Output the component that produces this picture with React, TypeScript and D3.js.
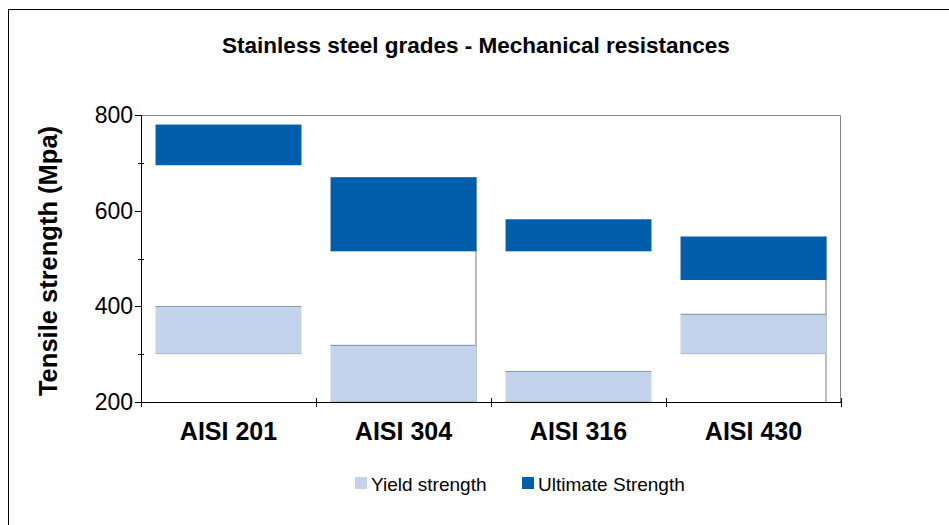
import React, { useEffect, useRef } from 'react';
import * as d3 from 'd3';

const grades = ['AISI 201', 'AISI 304', 'AISI 316', 'AISI 430'];
const yieldLow = [300, 200, 200, 300];
const yieldHigh = [400, 320, 265, 385];
const ultimateLow = [695, 515, 515, 455];
const ultimateHigh = [780, 670, 582, 546];
const yTicks = [200, 400, 600, 800];
const yMinorTicks = [300, 500, 700];
const seriesNames = ['Yield strength', 'Ultimate Strength'];

const YIELD = '#c3d3eb';
const ULT = '#005eaa';

export default function App() {
  const ref = useRef<SVGSVGElement>(null);

  useEffect(() => {
    const width = 949;
    const height = 525;
    const margin = { top: 115, left: 141, bottom: 123, right: 108 };
    const iwidth = width - margin.left - margin.right;
    const iheight = height - margin.top - margin.bottom;

    const svg = d3.select(ref.current);
    svg.selectAll('*').remove();
    svg.attr('width', width).attr('height', height);

    svg.append('rect').attr('width', width).attr('height', height).attr('fill', '#fff');

    // outer frame, runs off the page on the right and bottom
    svg.append('rect')
      .attr('x', 8.5).attr('y', 9.5)
      .attr('width', width + 20).attr('height', height + 20)
      .attr('fill', 'none').attr('stroke', '#000');

    const font = 'Liberation Sans, Arial, sans-serif';

    svg.append('text')
      .attr('x', 476).attr('y', 53)
      .attr('text-anchor', 'middle')
      .style('font-family', font)
      .style('font-weight', 'bold')
      .style('font-size', '22.5px')
      .text('Stainless steel grades - Mechanical resistances');

    const g = svg.append('g').attr('transform', `translate(${margin.left},${margin.top})`);

    const y = d3.scaleLinear().domain([200, 800]).range([iheight, 0]);
    const x = d3.scaleBand().domain(grades).range([0, iwidth]).paddingInner(0.166).paddingOuter(0.083);
    const step = x.step();

    // plot frame top + right
    g.append('path')
      .attr('d', `M0,0.5H${iwidth - 0.5}V${iheight}`)
      .attr('fill', 'none').attr('stroke', '#888');

    // leftover right edges from the stacked source (304, 430)
    const edgeGrades = ['AISI 304', 'AISI 430'];
    g.selectAll('line.edge')
      .data(grades.map((d, i) => ({ d, i })).filter((o) => edgeGrades.includes(o.d)))
      .enter()
      .append('line')
      .attr('x1', (o) => x(o.d)! + x.bandwidth() - 0.5)
      .attr('x2', (o) => x(o.d)! + x.bandwidth() - 0.5)
      .attr('y1', (o) => y(ultimateHigh[o.i]))
      .attr('y2', y(200))
      .attr('stroke', '#777');

    g.selectAll('rect.yield')
      .data(grades)
      .enter()
      .append('rect')
      .attr('x', (d) => x(d)!)
      .attr('width', x.bandwidth())
      .attr('y', (d, i) => y(yieldHigh[i]))
      .attr('height', (d, i) => y(yieldLow[i]) - y(yieldHigh[i]))
      .attr('fill', YIELD);

    g.selectAll('line.ytop')
      .data(grades)
      .enter()
      .append('line')
      .attr('x1', (d) => x(d)!)
      .attr('x2', (d) => x(d)! + x.bandwidth())
      .attr('y1', (d, i) => Math.round(y(yieldHigh[i])) + 0.5)
      .attr('y2', (d, i) => Math.round(y(yieldHigh[i])) + 0.5)
      .attr('stroke', '#8b9bb4');

    g.selectAll('line.ybot')
      .data(grades)
      .enter()
      .append('line')
      .attr('x1', (d) => x(d)!)
      .attr('x2', (d) => x(d)! + x.bandwidth())
      .attr('y1', (d, i) => Math.round(y(yieldLow[i])) - 0.5)
      .attr('y2', (d, i) => Math.round(y(yieldLow[i])) - 0.5)
      .attr('stroke', '#b4bccb');

    g.selectAll('rect.ult')
      .data(grades)
      .enter()
      .append('rect')
      .attr('x', (d) => x(d)!)
      .attr('width', x.bandwidth())
      .attr('y', (d, i) => y(ultimateHigh[i]))
      .attr('height', (d, i) => y(ultimateLow[i]) - y(ultimateHigh[i]))
      .attr('fill', ULT);

    // y axis
    const ya = g.append('g');
    ya.append('line').attr('x1', 0.5).attr('x2', 0.5).attr('y1', 0).attr('y2', iheight).attr('stroke', '#000');
    ya.selectAll('line.maj').data(yTicks).enter().append('line')
      .attr('x1', -6).attr('x2', 0.5)
      .attr('y1', (d) => Math.round(y(d)) + 0.5).attr('y2', (d) => Math.round(y(d)) + 0.5)
      .attr('stroke', '#000');
    ya.selectAll('line.min').data(yMinorTicks).enter().append('line')
      .attr('x1', -3).attr('x2', 3)
      .attr('y1', (d) => Math.round(y(d)) + 0.5).attr('y2', (d) => Math.round(y(d)) + 0.5)
      .attr('stroke', '#000');
    ya.selectAll('text').data(yTicks).enter().append('text')
      .attr('x', -8).attr('y', (d) => y(d) + 8)
      .attr('text-anchor', 'end')
      .style('font-family', font).style('font-size', '23px')
      .text((d) => d);

    svg.append('text')
      .attr('transform', `translate(57,261) rotate(-90)`)
      .attr('text-anchor', 'middle')
      .style('font-family', font).style('font-weight', 'bold').style('font-size', '25.5px')
      .text('Tensile strength (Mpa)');

    // x axis
    const xa = g.append('g').attr('transform', `translate(0,${iheight})`);
    xa.append('line').attr('x1', 0).attr('x2', iwidth).attr('y1', 0.5).attr('y2', 0.5).attr('stroke', '#000');
    xa.selectAll('line.t').data(d3.range(grades.length + 1)).enter().append('line')
      .attr('x1', (i) => Math.round(i * step) + 0.5).attr('x2', (i) => Math.round(i * step) + 0.5)
      .attr('y1', -4).attr('y2', 5)
      .attr('stroke', '#000');
    xa.selectAll('text').data(grades).enter().append('text')
      .attr('x', (d) => x(d)! + x.bandwidth() / 2)
      .attr('y', 38)
      .attr('text-anchor', 'middle')
      .style('font-family', font).style('font-weight', 'bold').style('font-size', '25px')
      .text((d) => d);

    // legend
    const legendX = [355, 522];
    const colors = [YIELD, ULT];
    const lg = svg.append('g');
    seriesNames.forEach((name, i) => {
      lg.append('rect').attr('x', legendX[i]).attr('y', 477).attr('width', 12).attr('height', 12).attr('fill', colors[i]);
      lg.append('text')
        .attr('x', legendX[i] + 16).attr('y', 491)
        .style('font-family', font).style('font-size', '19px')
        .text(name);
    });
  }, []);

  return (
    <div style={{ position: 'absolute', left: 0, top: 0 }}>
      <svg ref={ref} style={{ display: 'block' }}></svg>
    </div>
  );
}
